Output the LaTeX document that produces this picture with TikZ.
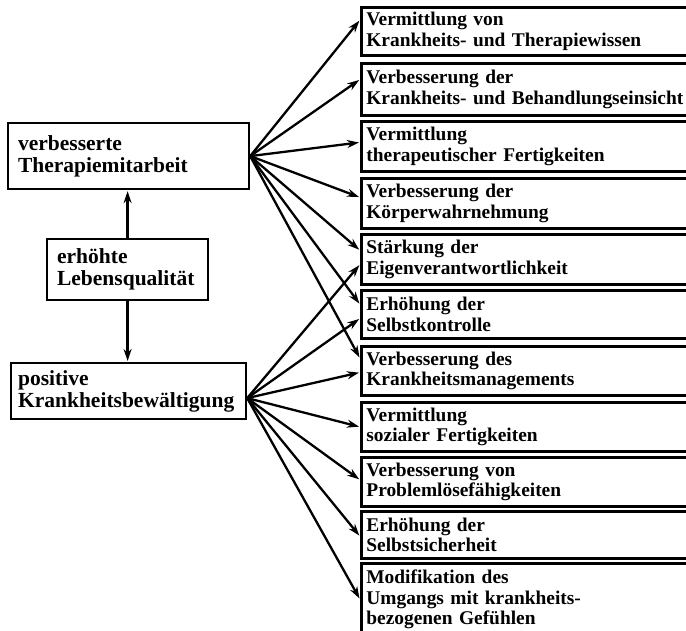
\documentclass[tikz,border=0pt]{standalone}
\usepackage{fontspec}
\setmainfont{Liberation Serif}
\usetikzlibrary{arrows.meta}
\tikzset{
  lbox/.style={draw, line width=2.2pt, anchor=north west, align=left, inner ysep=0pt,
    font=\fontsize{21.5}{22}\selectfont\bfseries},
  rbox/.style={draw, line width=2.8pt, anchor=north west, align=left, inner xsep=5pt, inner ysep=0pt,
    text width=330pt, font=\fontsize{19.4}{20.5}\selectfont\bfseries},
  arr/.style={line width=2.3pt, -{Stealth[length=12pt,width=8pt]}, shorten >=1pt}
}
\begin{document}
\begin{tikzpicture}[x=1pt,y=-1pt]
\useasboundingbox (0,0) rectangle (686,631);
\clip (0,0) rectangle (686,631);
% left boxes
\node[lbox, inner xsep=10pt, text width=221pt, minimum height=66pt] (A) at (7,122) {verbesserte\\Therapiemitarbeit};
\node[lbox, inner xsep=10pt, text width=141pt, minimum height=61pt] (B) at (46,238) {erhöhte\\Lebensqualität};
\node[lbox, inner xsep=7pt, text width=221pt, minimum height=56pt] (C) at (10,362) {positive\\Krankheitsbewältigung};
% right boxes
\node[rbox, minimum height=48pt] (r1) at (360,6) {Vermittlung von\\Krankheits- und Therapiewissen};
\node[rbox, minimum height=52pt] (r2) at (360,62) {Verbesserung der\\Krankheits- und Behandlungseinsicht};
\node[rbox, minimum height=50pt] (r3) at (360,120) {Vermittlung\\therapeutischer Fertigkeiten};
\node[rbox, minimum height=50pt] (r4) at (360,177) {Verbesserung der\\Körperwahrnehmung};
\node[rbox, minimum height=50pt] (r5) at (360,233) {Stärkung der\\Eigenverantwortlichkeit};
\node[rbox, minimum height=48pt] (r6) at (360,289) {Erhöhung der\\Selbstkontrolle};
\node[rbox, minimum height=49pt] (r7) at (360,345) {Verbesserung des\\Krankheitsmanagements};
\node[rbox, minimum height=49pt] (r8) at (360,401) {Vermittlung\\sozialer Fertigkeiten};
\node[rbox, minimum height=49pt] (r9) at (360,456) {Verbesserung von\\Problemlösefähigkeiten};
\node[rbox, minimum height=47pt] (r10) at (360,510) {Erhöhung der\\Selbstsicherheit};
\node[rbox, minimum height=72pt] (r11) at (360,562) {Modifikation des\\Umgangs mit krankheits-\\bezogenen Gefühlen};
% vertical arrows
\draw[arr] (B.north) -- (B.north |- A.south);
\draw[arr] (B.south) -- (B.south |- C.north);
% fan from A
\draw[arr] (A.east) -- ([yshift=11.5pt]r1.west);
\draw[arr] (A.east) -- ([yshift=10pt]r2.west);
\draw[arr] (A.east) -- ([yshift=4pt]r3.west);
\draw[arr] (A.east) -- ([yshift=6pt]r4.west);
\draw[arr] (A.east) -- ([yshift=9pt]r5.west);
\draw[arr] (A.east) -- ([yshift=10pt]r6.west);
\draw[arr] (A.east) -- ([yshift=12.5pt]r7.west);
% fan from C
\draw[arr] ([yshift=-7pt]C.east) -- ([yshift=-5pt]r5.west);
\draw[arr] ([yshift=-7pt]C.east) -- ([yshift=-4pt]r6.west);
\draw[arr] ([yshift=-7pt]C.east) -- ([yshift=-1.5pt]r7.west);
\draw[arr] ([yshift=-7pt]C.east) -- (r8.west);
\draw[arr] ([yshift=-7pt]C.east) -- ([yshift=2pt]r9.west);
\draw[arr] ([yshift=-7pt]C.east) -- ([yshift=-1.5pt]r10.west);
\draw[arr] ([yshift=-7pt]C.east) -- (r11.west);
\end{tikzpicture}
\end{document}
